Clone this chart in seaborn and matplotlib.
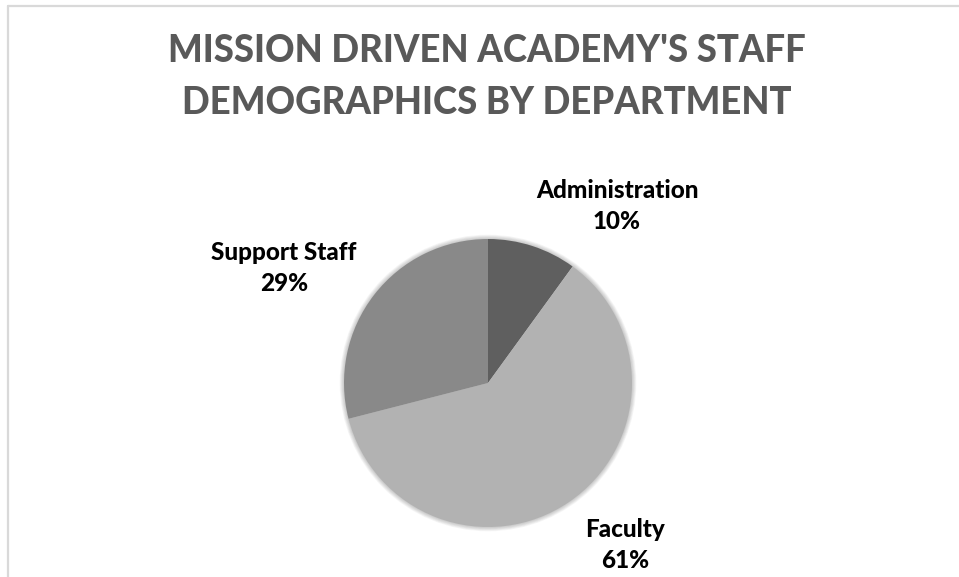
import matplotlib
matplotlib.use("Agg")
import matplotlib.pyplot as plt
from matplotlib.lines import Line2D
from matplotlib.patches import Circle
import seaborn as sns

# Staff share by department
departments = ["Administration", "Faculty", "Support Staff"]
shares = [10, 61, 29]
slice_colors = ["#5f5f5f", "#b2b2b2", "#898989"]
title_lines = ["MISSION DRIVEN ACADEMY'S STAFF", "DEMOGRAPHICS BY DEPARTMENT"]

sns.set_theme(style="white")
plt.rcParams["font.family"] = ["Lato", "DejaVu Sans"]

W, H = 959, 577
fig = plt.figure(figsize=(W / 100, H / 100), dpi=100)
fig.patch.set_facecolor("white")

# frame lines along top and left edges
fig.add_artist(Line2D([7.5 / W, 1.0], [1 - 5.5 / H, 1 - 5.5 / H],
                      transform=fig.transFigure, color="#d9d9d9", lw=1.6))
fig.add_artist(Line2D([7.5 / W, 7.5 / W], [1 - 5.5 / H, 0.0],
                      transform=fig.transFigure, color="#d9d9d9", lw=1.6))

# title
fig.text(487 / W, 1 - 51 / H, title_lines[0], ha="center", va="center",
         fontsize=26.3, fontweight="black", color="#595959")
fig.text(487 / W, 1 - 103 / H, title_lines[1], ha="center", va="center",
         fontsize=26.3, fontweight="black", color="#595959")

# pie axes
cx, cy, r = 488, 383, 144
pad = 8
ax = fig.add_axes([(cx - r - pad) / W, (H - cy - r - pad) / H,
                   2 * (r + pad) / W, 2 * (r + pad) / H])
lim = 1 + pad / r

# soft shadow behind pie
for k in range(6):
    ax.add_patch(Circle((0, 0), 1 + 0.005 * (k + 1), color="#000000",
                        alpha=0.035, lw=0, zorder=0))

wedges, _ = ax.pie(shares, colors=slice_colors, startangle=90,
                   counterclock=False, wedgeprops=dict(linewidth=0))
for w in wedges:
    w.set_zorder(2)
ax.set_xlim(-lim, lim)
ax.set_ylim(-lim, lim)
ax.set_aspect("equal")
ax.axis("off")

# category labels with percentages
label_pos = {
    "Administration": (617, 206),
    "Faculty": (625, 545),
    "Support Staff": (284, 268),
}
for name, val in zip(departments, shares):
    x, y = label_pos[name]
    fig.text(x / W, 1 - y / H, f"{name}\n{val}%", ha="center", va="center",
             fontsize=17.5, fontweight="black", color="#000000",
             linespacing=1.47)

fig.savefig("out.png", dpi=100)
